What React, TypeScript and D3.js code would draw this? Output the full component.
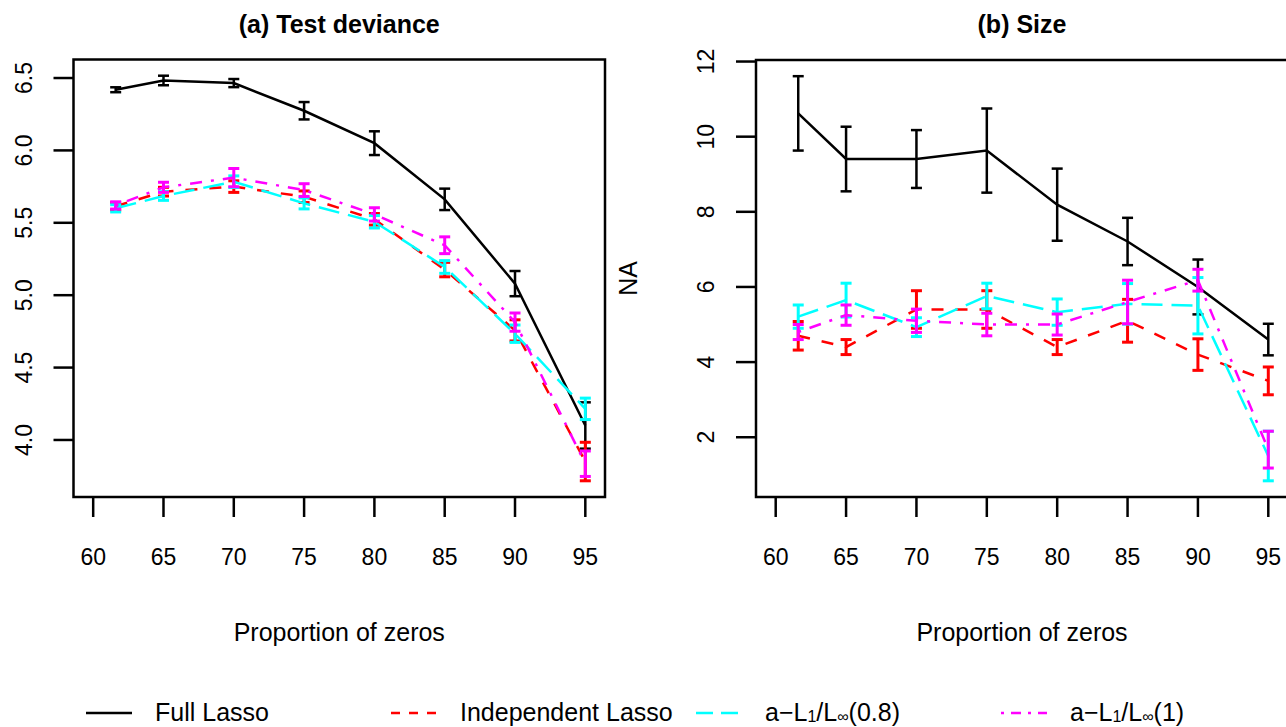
import React from 'react';
import * as d3 from 'd3';

// proportion of zeros (first setting is a bit above 60)
const xVals = [61.6, 65, 70, 75, 80, 85, 90, 95];

// (a) test deviance: means and standard errors
const devFull = [6.419, 6.483, 6.465, 6.274, 6.05, 5.662, 5.08, 4.1];
const devFullSe = [0.017, 0.033, 0.028, 0.06, 0.082, 0.074, 0.087, 0.16];
const devIndep = [5.614, 5.715, 5.75, 5.68, 5.524, 5.177, 4.757, 3.851];
const devIndepSe = [0.025, 0.03, 0.04, 0.04, 0.04, 0.05, 0.073, 0.133];
const devA08 = [5.6, 5.685, 5.784, 5.634, 5.507, 5.195, 4.734, 4.215];
const devA08Se = [0.025, 0.03, 0.04, 0.038, 0.043, 0.044, 0.06, 0.074];
const devA1 = [5.62, 5.745, 5.812, 5.726, 5.558, 5.345, 4.814, 3.836];
const devA1Se = [0.025, 0.035, 0.063, 0.044, 0.046, 0.058, 0.063, 0.088];

// (b) size
const sizeFull = [10.62, 9.405, 9.405, 9.63, 8.19, 7.21, 6.0, 4.6];
const sizeFullSe = [0.99, 0.86, 0.77, 1.12, 0.96, 0.63, 0.73, 0.42];
const sizeIndep = [4.7, 4.4, 5.4, 5.4, 4.4, 5.1, 4.2, 3.5];
const sizeIndepSe = [0.38, 0.2, 0.5, 0.5, 0.2, 0.57, 0.42, 0.37];
const sizeA08 = [5.21, 5.65, 4.93, 5.76, 5.33, 5.55, 5.5, 1.5];
const sizeA08Se = [0.31, 0.45, 0.25, 0.34, 0.35, 0.54, 0.75, 0.66];
const sizeA1 = [4.8, 5.25, 5.1, 5.0, 5.0, 5.6, 6.18, 1.67];
const sizeA1Se = [0.2, 0.27, 0.31, 0.3, 0.28, 0.58, 0.29, 0.49];

const xTicks = [60, 65, 70, 75, 80, 85, 90, 95];
const devTicks = [4.0, 4.5, 5.0, 5.5, 6.0, 6.5];
const sizeTicks = [2, 4, 6, 8, 10, 12];

const seriesNames = ['Full Lasso', 'Independent Lasso', 'a-L1/Linf(0.8)', 'a-L1/Linf(1)'];
const colors = ['#000000', '#ff0000', '#00ffff', '#ff00ff'];
// R lty 1, 2, 5, 4
const plotDash = [null, '12 12', '21 9', '3 9 12 9'];
const legendDash = [null, '9 9', '17 8', '3 7 10 7'];

const font = '"Liberation Sans", Arial, Helvetica, sans-serif';
const W = 1286, H = 727;

type Ser = { mean: number[]; se: number[] };

function Panel(props: {
  left: number; right: number; top: number; bottom: number;
  title: string; ylab: string; series: Ser[]; yTicks: number[]; fmt: (v: number) => string;
}) {
  const { left, right, top, bottom, series } = props;
  const x = d3.scaleLinear().domain([58.6, 96.4]).range([left, right]);
  // R style 4% padding around the error bar extent
  const lo = d3.min(series, s => d3.min(s.mean, (m, i) => m - s.se[i])) as number;
  const hi = d3.max(series, s => d3.max(s.mean, (m, i) => m + s.se[i])) as number;
  const pad = (hi - lo) * 0.04;
  const y = d3.scaleLinear().domain([lo - pad, hi + pad]).range([bottom, top]);
  const line = d3.line<number>().x((d, i) => x(xVals[i])).y(d => y(d));
  const cx = (left + right) / 2;
  const cap = 5.5;

  return (
    <g>
      <text x={cx} y={24} textAnchor="middle" dominantBaseline="central"
        fontWeight="bold" fontSize={25}>{props.title}</text>
      {series.map((s, k) => (
        <g key={k}>
          <path d={line(s.mean) || ''} fill="none" stroke={colors[k]} strokeWidth={2.5}
            strokeDasharray={plotDash[k] || undefined} />
          {s.mean.map((m, i) => {
            const px = x(xVals[i]);
            const y1 = y(m - s.se[i]), y2 = y(m + s.se[i]);
            return (
              <g key={i} stroke={colors[k]} strokeWidth={k == 0 ? 2.5 : 3}>
                <line x1={px} x2={px} y1={y1} y2={y2} />
                <line x1={px - cap} x2={px + cap} y1={y1} y2={y1} />
                <line x1={px - cap} x2={px + cap} y1={y2} y2={y2} />
              </g>
            );
          })}
        </g>
      ))}
      <rect x={left} y={top} width={right - left} height={bottom - top}
        fill="none" stroke="#000" strokeWidth={2.5} />
      {xTicks.map(t => (
        <g key={t}>
          <line x1={x(t)} x2={x(t)} y1={bottom} y2={bottom + 20} stroke="#000" strokeWidth={2.5} />
          <text x={x(t)} y={557} textAnchor="middle" dominantBaseline="central" fontSize={23}>{t}</text>
        </g>
      ))}
      {props.yTicks.map(t => (
        <g key={t}>
          <line x1={left - 20} x2={left} y1={y(t)} y2={y(t)} stroke="#000" strokeWidth={2.5} />
          <text transform={`translate(${left - 50},${y(t)}) rotate(-90)`} textAnchor="middle"
            dominantBaseline="central" fontSize={23}>{props.fmt(t)}</text>
        </g>
      ))}
      <text x={cx} y={632} textAnchor="middle" dominantBaseline="central" fontSize={25}>
        Proportion of zeros
      </text>
      <text transform={`translate(${left - 128},${(top + bottom) / 2}) rotate(-90)`}
        textAnchor="middle" dominantBaseline="central" fontSize={25}>{props.ylab}</text>
    </g>
  );
}

function LegendLabel({ k }: { k: number }) {
  if (k < 2) return <>{seriesNames[k]}</>;
  const arg = k == 2 ? '(0.8)' : '(1)';
  return (
    <>
      a−L<tspan fontSize={16} dy={4}>1</tspan>
      <tspan dy={-4}>/L</tspan>
      <tspan fontSize={16} dy={4}>∞</tspan>
      <tspan dy={-4}>{arg}</tspan>
    </>
  );
}

export default function App() {
  const devSeries: Ser[] = [
    { mean: devFull, se: devFullSe }, { mean: devIndep, se: devIndepSe },
    { mean: devA08, se: devA08Se }, { mean: devA1, se: devA1Se },
  ];
  const sizeSeries: Ser[] = [
    { mean: sizeFull, se: sizeFullSe }, { mean: sizeIndep, se: sizeIndepSe },
    { mean: sizeA08, se: sizeA08Se }, { mean: sizeA1, se: sizeA1Se },
  ];
  const legX = d3.scaleLinear().domain([0, 1]).range([86, 391]);
  return (
    <svg width={W} height={H} style={{ position: 'absolute', left: 0, top: 0, background: '#fff' }}
      fontFamily={font}>
      <Panel left={73.5} right={605} top={59.5} bottom={497} title="(a) Test deviance" ylab=""
        series={devSeries} yTicks={devTicks} fmt={d3.format('.1f')} />
      <Panel left={756} right={1288} top={60} bottom={497} title="(b) Size" ylab="NA"
        series={sizeSeries} yTicks={sizeTicks} fmt={d3.format('d')} />
      {seriesNames.map((n, k) => (
        <g key={n}>
          <line x1={legX(k)} x2={legX(k) + 46} y1={713} y2={713} stroke={colors[k]} strokeWidth={2.5}
            strokeDasharray={legendDash[k] || undefined} />
          <text x={legX(k) + 69} y={712} dominantBaseline="central" fontSize={25}>
            <LegendLabel k={k} />
          </text>
        </g>
      ))}
    </svg>
  );
}
